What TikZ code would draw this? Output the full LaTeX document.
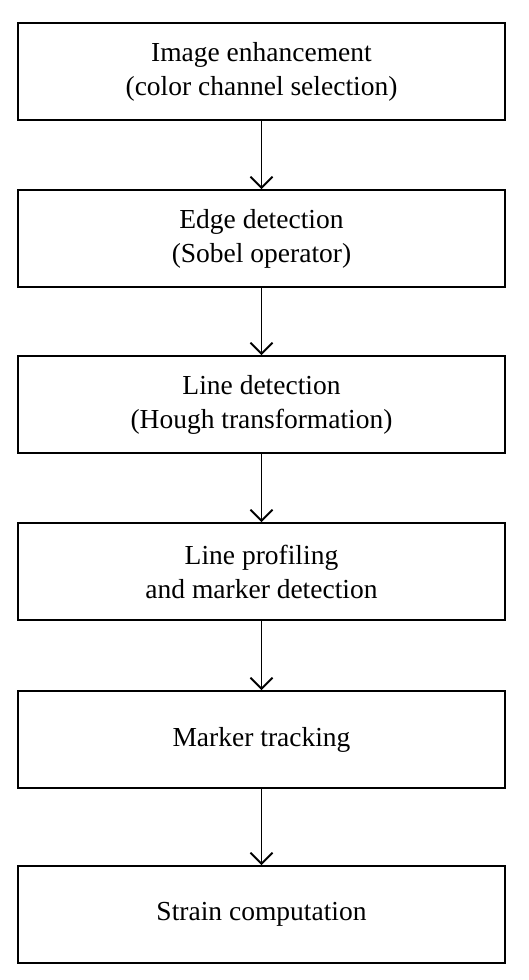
\documentclass[tikz,border=0pt]{standalone}
\usepackage{fontspec}
\setmainfont{Liberation Serif}
\usetikzlibrary{arrows.meta}
\begin{document}
\begin{tikzpicture}[x=1pt,y=-1pt,
  stepbox/.style={draw, line width=2pt, minimum width=487pt, minimum height=97pt, align=center, inner sep=0pt,
    font=\fontsize{27.5}{34}\selectfont},
  conn/.style={line width=1.8pt, -{Straight Barb[length=11pt,width=22pt,line width=1.8pt]}}]
\useasboundingbox (0,0) rectangle (528,980);
\node[stepbox] (b1) at (261.5,71.5) {Image enhancement\\(color channel selection)};
\node[stepbox] (b2) at (261.5,238.5) {Edge detection\\(Sobel operator)};
\node[stepbox] (b3) at (261.5,404.5) {Line detection\\(Hough transformation)};
\node[stepbox] (b4) at (261.5,571.5) {Line profiling\\and marker detection};
\node[stepbox] (b5) at (261.5,739.5) {Marker tracking};
\node[stepbox] (b6) at (261.5,914.5) {Strain computation};
\draw[conn] (b1.south) -- (b2.north);
\draw[conn] (b2.south) -- (b3.north);
\draw[conn] (b3.south) -- (b4.north);
\draw[conn] (b4.south) -- (b5.north);
\draw[conn] (b5.south) -- (b6.north);
\end{tikzpicture}
\end{document}
